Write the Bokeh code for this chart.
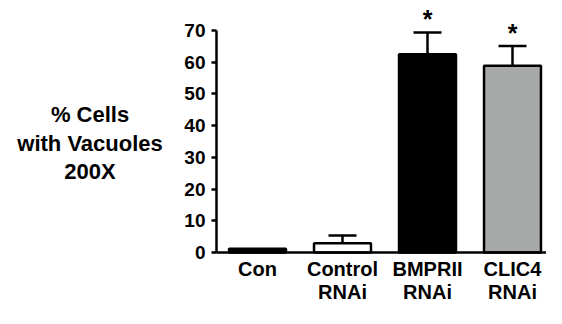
from bokeh.plotting import figure
from bokeh.models import ColumnDataSource, Whisker, TeeHead, FixedTicker, Range1d
from bokeh.core.properties import value
from bokeh.embed import file_html
from bokeh.resources import INLINE

categories = ["Con", "Control\nRNAi", "BMPRII\nRNAi", "CLIC4\nRNAi"]
means = [1.2, 2.9, 62.5, 58.9]
errors = [0.0, 2.5, 6.9, 6.2]
significant = [False, False, True, True]
bar_colors = ["black", "white", "black", "#a8aaaa"]
y_ticks = [0, 10, 20, 30, 40, 50, 60, 70]
y_title = "% Cells\nwith Vacuoles\n200X"

FONT = "Liberation Sans"
xs = [i + 1 for i in range(len(categories))]
upper = [m + e for m, e in zip(means, errors)]

X0, X1 = -2.0235, 4.4
AXIS_X = 0.5176
p = figure(width=546, height=308, output_backend="svg", toolbar_location=None,
           x_range=Range1d(X0, X1), y_range=Range1d(-17.66, 79.47),
           min_border_left=0, min_border_right=0, min_border_top=0, min_border_bottom=0)
p.xgrid.visible = False
p.ygrid.visible = False
p.outline_line_color = None
p.background_fill_color = "white"
p.border_fill_color = "white"

src = ColumnDataSource(dict(x=xs, top=means, upper=upper, color=bar_colors))
p.vbar(x="x", top="top", bottom=0, width=0.67, source=src, fill_color="color",
       line_color="black", line_width=2.5)

err_src = ColumnDataSource(dict(x=[x for x, e in zip(xs, errors) if e > 0],
                                top=[m for m, e in zip(means, errors) if e > 0],
                                upper=[u for u, e in zip(upper, errors) if e > 0]))
w = Whisker(source=err_src, base="x", lower="top", upper="upper", dimension="height",
            line_color="black", line_width=2.5, lower_head=None,
            upper_head=TeeHead(size=28, line_color="black", line_width=2.5))
p.add_layout(w)

star_src = ColumnDataSource(dict(x=[x for x, s in zip(xs, significant) if s],
                                 y=[u for u, s in zip(upper, significant) if s],
                                 t=["*" for s in significant if s]))
p.text(x="x", y="y", text="t", source=star_src, text_align="center", text_baseline="alphabetic",
       y_offset=-13, text_font=value(FONT), text_font_style="bold", text_font_size="25px",
       text_line_height=1.0, text_color="black")

# category labels below the x axis
lab_src = ColumnDataSource(dict(x=xs, y=[0] * len(xs), t=categories))
p.text(x="x", y="y", text="t", source=lab_src, text_align="center", text_baseline="top",
       y_offset=5, text_font=value(FONT), text_font_style="bold", text_font_size="20px",
       text_line_height=1.08, text_color="black")

# y-axis title
title_src = ColumnDataSource(dict(x=[-0.97], y=[34.4], t=[y_title]))
p.text(x="x", y="y", text="t", source=title_src, text_align="center", text_baseline="middle",
       text_font=value(FONT), text_font_style="bold", text_font_size="22px",
       text_line_height=1.14, text_color="black")

# x axis (line only)
xa = p.xaxis[0]
xa.fixed_location = 0
xa.bounds = (AXIS_X, X1)
xa.ticker = FixedTicker(ticks=[])
xa.major_label_text_font_size = "0px"
xa.major_tick_line_color = None
xa.minor_tick_line_color = None
xa.axis_line_width = 2.5
xa.axis_line_color = "black"

# y axis
ya = p.yaxis[0]
ya.fixed_location = AXIS_X
ya.ticker = FixedTicker(ticks=y_ticks)
ya.bounds = (0, 70)
ya.minor_tick_line_color = None
ya.major_tick_in = 0
ya.major_tick_out = 5
ya.major_tick_line_width = 2.5
ya.axis_line_width = 2.5
ya.major_label_standoff = 6
ya.major_label_text_font = FONT
ya.major_label_text_font_style = "bold"
ya.major_label_text_font_size = "19px"
ya.major_label_text_color = "black"

open("out.html", "w").write(file_html(p, INLINE))
